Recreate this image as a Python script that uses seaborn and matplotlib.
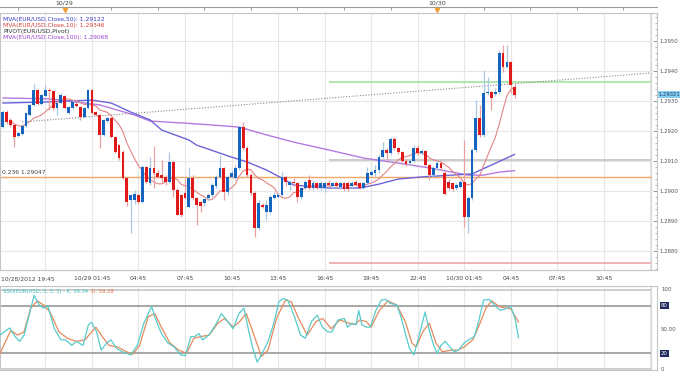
import numpy as np
import pandas as pd
import matplotlib
matplotlib.use('Agg')
import matplotlib.pyplot as plt
import matplotlib.transforms as mtransforms
from matplotlib.ticker import MultipleLocator, FixedLocator
import seaborn as sns

# EUR/USD 15-minute candles, 10/28/2012 20:00 -> 10/30/2012 05:00 (index 0..132)
opens = [1.29213, 1.29263, 1.29237, 1.29220, 1.29183, 1.29190, 1.29217, 1.29253, 1.29287, 1.29337,
         1.29290, 1.29317, 1.29337, 1.29333, 1.29277, 1.29293, 1.29317, 1.29260, 1.29277, 1.29290,
         1.29280, 1.29247, 1.29277, 1.29337, 1.29263, 1.29253, 1.29187, 1.29233, 1.29243, 1.29180,
         1.29153, 1.29130, 1.29043, 1.28970, 1.28970, 1.28987, 1.28963, 1.29080, 1.29027, 1.29077,
         1.29060, 1.29053, 1.29047, 1.29030, 1.29097, 1.29003, 1.28987, 1.28993, 1.28947, 1.29043,
         1.28977, 1.28963, 1.28960, 1.28977, 1.28987, 1.29017, 1.29047, 1.29077, 1.28997, 1.29047,
         1.29043, 1.29077, 1.29213, 1.29143, 1.29053, 1.28993, 1.28877, 1.28953, 1.28930, 1.28930,
         1.28977, 1.28980, 1.28987, 1.29047, 1.29020, 1.29030, 1.29027, 1.28980, 1.29010, 1.29037,
         1.29010, 1.29027, 1.29010, 1.29010, 1.29027, 1.29017, 1.29027, 1.29013, 1.29027, 1.29027,
         1.29017, 1.29030, 1.29027, 1.29010, 1.29027, 1.29053, 1.29060, 1.29070, 1.29113, 1.29137,
         1.29127, 1.29173, 1.29143, 1.29130, 1.29100, 1.29093, 1.29100, 1.29143, 1.29127, 1.29133,
         1.29087, 1.29053, 1.29077, 1.29093, 1.29060, 1.29030, 1.29027, 1.29010, 1.29013, 1.29030,
         1.28913, 1.28977, 1.29137, 1.29243, 1.29187, 1.29327, 1.29330, 1.29323, 1.29330, 1.29460,
         1.29413, 1.29430, 1.29347]
closes = [1.29263, 1.29230, 1.29220, 1.29180, 1.29193, 1.29217, 1.29260, 1.29287, 1.29337, 1.29290,
          1.29320, 1.29337, 1.29333, 1.29277, 1.29293, 1.29320, 1.29277, 1.29280, 1.29297, 1.29283,
          1.29247, 1.29277, 1.29337, 1.29260, 1.29253, 1.29187, 1.29237, 1.29243, 1.29180, 1.29130,
          1.29110, 1.29043, 1.28963, 1.28987, 1.28990, 1.28963, 1.29080, 1.29030, 1.29077, 1.29060,
          1.29047, 1.29043, 1.29030, 1.29097, 1.29003, 1.28920, 1.28920, 1.28977, 1.29043, 1.28977,
          1.28953, 1.28950, 1.28973, 1.28987, 1.29020, 1.29047, 1.29077, 1.28997, 1.29047, 1.29060,
          1.29077, 1.29213, 1.29143, 1.29053, 1.28993, 1.28877, 1.28960, 1.28947, 1.28953, 1.28980,
          1.28987, 1.28987, 1.29047, 1.29030, 1.29030, 1.29027, 1.28980, 1.29010, 1.29030, 1.29010,
          1.29027, 1.29010, 1.29027, 1.29027, 1.29020, 1.29027, 1.29017, 1.29027, 1.29007, 1.29007,
          1.29027, 1.29020, 1.29010, 1.29027, 1.29060, 1.29063, 1.29070, 1.29113, 1.29137, 1.29127,
          1.29173, 1.29143, 1.29130, 1.29100, 1.29090, 1.29100, 1.29143, 1.29127, 1.29133, 1.29087,
          1.29053, 1.29077, 1.29093, 1.29077, 1.28990, 1.29010, 1.29007, 1.29020, 1.29030, 1.28913,
          1.28977, 1.29137, 1.29243, 1.29187, 1.29327, 1.29330, 1.29310, 1.29330, 1.29460, 1.29413,
          1.29430, 1.29353, 1.29321]
highs = [1.29270, 1.29270, 1.29243, 1.29223, 1.29197, 1.29220, 1.29263, 1.29290, 1.29357, 1.29340,
         1.29323, 1.29353, 1.29343, 1.29337, 1.29297, 1.29327, 1.29320, 1.29283, 1.29303, 1.29297,
         1.29283, 1.29280, 1.29340, 1.29340, 1.29267, 1.29257, 1.29240, 1.29247, 1.29247, 1.29183,
         1.29157, 1.29137, 1.29047, 1.28990, 1.29003, 1.28990, 1.29087, 1.29083, 1.29113, 1.29150,
         1.29070, 1.29103, 1.29053, 1.29130, 1.29100, 1.29010, 1.28990, 1.29043, 1.29080, 1.29053,
         1.28980, 1.28967, 1.28977, 1.28993, 1.29027, 1.29053, 1.29120, 1.29080, 1.29053, 1.29070,
         1.29087, 1.29217, 1.29230, 1.29150, 1.29060, 1.29000, 1.28970, 1.28960, 1.28970, 1.28987,
         1.28997, 1.28993, 1.29063, 1.29050, 1.29037, 1.29043, 1.29030, 1.29013, 1.29037, 1.29053,
         1.29037, 1.29030, 1.29033, 1.29030, 1.29037, 1.29030, 1.29033, 1.29030, 1.29030, 1.29033,
         1.29033, 1.29037, 1.29030, 1.29030, 1.29080, 1.29070, 1.29087, 1.29120, 1.29163, 1.29143,
         1.29180, 1.29180, 1.29147, 1.29133, 1.29107, 1.29107, 1.29153, 1.29153, 1.29140, 1.29137,
         1.29090, 1.29083, 1.29100, 1.29097, 1.29070, 1.29040, 1.29030, 1.29027, 1.29037, 1.29170,
         1.28983, 1.29143, 1.29303, 1.29287, 1.29403, 1.29380, 1.29333, 1.29343, 1.29470, 1.29487,
         1.29487, 1.29433, 1.29357]
lows = [1.29210, 1.29223, 1.29213, 1.29147, 1.29180, 1.29187, 1.29213, 1.29250, 1.29283, 1.29287,
        1.29287, 1.29313, 1.29270, 1.29270, 1.29253, 1.29290, 1.29273, 1.29257, 1.29273, 1.29280,
        1.29237, 1.29243, 1.29273, 1.29257, 1.29250, 1.29143, 1.29183, 1.29230, 1.29177, 1.29127,
        1.29103, 1.29040, 1.28950, 1.28860, 1.28957, 1.28957, 1.28960, 1.29027, 1.29020, 1.29010,
        1.29043, 1.29027, 1.29020, 1.29027, 1.28980, 1.28920, 1.28913, 1.28973, 1.28943, 1.28970,
        1.28887, 1.28930, 1.28950, 1.28970, 1.28980, 1.29010, 1.29043, 1.28970, 1.28987, 1.29043,
        1.29037, 1.29070, 1.29137, 1.29047, 1.28987, 1.28847, 1.28870, 1.28943, 1.28903, 1.28923,
        1.28973, 1.28977, 1.28983, 1.29017, 1.29003, 1.29017, 1.28963, 1.28973, 1.29007, 1.29003,
        1.29003, 1.29007, 1.29003, 1.28997, 1.29013, 1.29010, 1.29010, 1.29007, 1.29000, 1.29000,
        1.29010, 1.29017, 1.29007, 1.29007, 1.29020, 1.29050, 1.29050, 1.29060, 1.29110, 1.29103,
        1.29120, 1.29137, 1.29123, 1.29093, 1.29083, 1.29087, 1.29097, 1.29120, 1.29120, 1.29083,
        1.29037, 1.29047, 1.29070, 1.29070, 1.28987, 1.29003, 1.29000, 1.29003, 1.29010, 1.28880,
        1.28860, 1.28970, 1.29130, 1.29180, 1.29180, 1.29320, 1.29270, 1.29317, 1.29323, 1.29397,
        1.29410, 1.29327, 1.29310]

# moving averages (candle index, price)
ma50_idx = [0, 12, 23, 28, 33, 38, 41, 48, 50, 59, 63, 68, 72, 75, 84, 92, 97, 102, 108, 121, 132]
ma50_val = [1.29293, 1.29297, 1.29303, 1.29293, 1.29263, 1.29237, 1.29203, 1.29170, 1.29153, 1.29113,
            1.29097, 1.29070, 1.29043, 1.29020, 1.29010, 1.29010, 1.29023, 1.29040, 1.29047, 1.29057, 1.29122]
ma100_idx = [0, 12, 25, 34, 38, 46, 54, 61, 68, 75, 84, 93, 102, 110, 120, 124, 128, 132]
ma100_val = [1.29310, 1.29307, 1.29287, 1.29253, 1.29233, 1.29227, 1.29220, 1.29213, 1.29187, 1.29163,
             1.29137, 1.29110, 1.29093, 1.29077, 1.29053, 1.29053, 1.29063, 1.29068]

# pivot / fibonacci levels
pivot_levels = [1.29363, 1.29103, 1.28760]
pivot_colors = ['#a3e39d', '#c4c4c4', '#eaa7a7']
pivot_start = 84
fib_level = 1.29047
trend_idx = [5, 167]
trend_val = [1.29230, 1.29393]

# slow stochastic (5,3,3)
k_pos = [-0.7, 0.4, 1.8, 3.2, 4.4, 5.5, 8.1, 9.4, 10.5, 11.7, 13.3, 15.0, 16.2, 17.8, 19.0, 20.7, 22.1,
         22.9, 24.2, 25.4, 26.8, 27.9, 29.4, 30.8, 33.0, 34.7, 36.4, 38.4, 39.2, 40.9, 42.6, 44.2, 45.9,
         47.1, 48.5, 49.5, 50.6, 51.5, 53.2, 54.9, 56.4, 57.7, 59.4, 60.9, 62.2, 63.3, 64.5, 65.6, 66.7,
         68.4, 69.9, 71.2, 72.3, 73.5, 75.1, 76.8, 78.0, 79.6, 81.1, 82.4, 83.8, 84.9, 86.4, 88.1, 88.9,
         90.1, 91.1, 91.8, 92.6, 93.7, 94.8, 96.2, 97.6, 98.7, 99.9, 101.6, 102.7, 103.8, 104.9, 106.0,
         107.2, 108.9, 110.0, 111.1, 112.0, 113.0, 114.1, 115.3, 116.4, 117.5, 119.0, 120.1, 121.6,
         122.7, 124.0, 125.4, 126.8, 128.3, 129.6, 131.0, 132.1, 133.0]
k_val = [43, 47, 52, 41, 35, 43, 93, 81, 77, 79, 51, 37, 37, 30, 35, 30, 56, 59, 47, 24, 33, 37, 26, 22,
         18, 30, 58, 79, 66, 45, 33, 28, 18, 17, 41, 41, 45, 37, 43, 56, 70, 62, 51, 70, 77, 51, 26, 9,
         18, 35, 58, 85, 89, 87, 68, 43, 39, 60, 68, 53, 47, 47, 62, 64, 53, 58, 56, 74, 56, 53, 53, 74,
         87, 88, 83, 81, 66, 45, 26, 18, 39, 72, 49, 30, 20, 30, 35, 28, 22, 24, 33, 37, 41, 60, 87, 88,
         81, 74, 76, 79, 64, 39.34]
d_pos = [-0.7, 2.1, 3.8, 5.5, 7.2, 8.9, 10.5, 12.2, 14.5, 16.7, 19.0, 21.2, 24.0, 25.7, 27.4, 29.6,
         31.9, 33.6, 35.3, 37.5, 39.2, 40.9, 43.1, 45.4, 47.4, 49.3, 51.0, 53.2, 55.5, 57.2, 59.4, 61.1,
         62.8, 64.5, 66.7, 68.4, 70.6, 72.9, 74.4, 76.3, 78.5, 80.8, 82.5, 84.7, 86.9, 89.2, 90.9, 92.0,
         93.7, 95.0, 97.1, 99.3, 101.6, 103.8, 105.5, 106.6, 108.3, 110.0, 111.7, 113.4, 115.6, 117.3,
         119.0, 121.2, 122.9, 124.6, 126.1, 128.0, 129.6, 131.0, 133.0]
d_val = [20, 49, 43, 47, 77, 86, 81, 72, 47, 39, 35, 37, 53, 41, 30, 28, 22, 19, 30, 66, 70, 53, 33,
         24, 20, 39, 41, 43, 58, 64, 53, 60, 70, 47, 16, 24, 64, 87, 85, 64, 43, 60, 64, 51, 62, 58, 56,
         62, 60, 53, 74, 86, 81, 60, 33, 28, 47, 58, 33, 22, 24, 24, 28, 37, 56, 77, 86, 79, 77, 76, 59.28]

# time axis (candle index of each label)
time_tick_idx = [23, 35, 47, 59, 71, 83, 95, 107, 119, 131, 143, 155]
time_tick_labels = ['10/29 01:45', '04:45', '07:45', '10:45', '13:45', '16:45', '19:45', '22:45',
                    '10/30 01:45', '04:45', '07:45', '10:45']
first_label = '10/28/2012 19:45'
day_idx = [16, 112]
day_labels = ['10/29', '10/30']
price_ticks = [1.2880, 1.2890, 1.2900, 1.2910, 1.2920, 1.2930, 1.2940, 1.2950]

df = pd.DataFrame({'open': opens, 'high': highs, 'low': lows, 'close': closes})
df['idx'] = np.arange(len(df))
df['ma10'] = df['close'].rolling(10, min_periods=3).mean()
up = df['close'] >= df['open']

sns.set_style('white')
plt.rcParams['font.family'] = ['DejaVu Sans']

fig = plt.figure(figsize=(6.8, 3.74), dpi=100)
ax = fig.add_axes([0, 104 / 374, 657 / 680, 257 / 374])
ax2 = fig.add_axes([0, 4 / 374, 657 / 680, 84 / 374])

x_right = 167.1
grid_idx = list(range(11, 168, 12))
for a in (ax, ax2):
    a.set_xlim(-0.7, 168.7)
    for g in grid_idx:
        a.axvline(g, color='#e6e6e6', lw=0.8, zorder=0)
    a.axvline(x_right, color='#d6d6d6', lw=0.8, zorder=0)
    for s in a.spines.values():
        s.set_color('#c4c4c4')
        s.set_linewidth(0.8)

# ---- price panel ----
ax.set_ylim(1.28737, 1.29593)
for p in price_ticks:
    ax.axhline(p, xmax=x_right / 168.7, color='#e6e6e6', lw=0.8, zorder=0)

ax.hlines(fib_level, -0.7, x_right, color='#f2a765', lw=1.0, zorder=1)
for lvl, col in zip(pivot_levels, pivot_colors):
    ax.hlines(lvl, pivot_start, x_right, color=col, lw=1.2, zorder=1)
ax.plot(trend_idx, trend_val, color='#8a8a8a', lw=0.8, ls=(0, (1, 1.5)), zorder=1)

sns.lineplot(x=ma100_idx, y=ma100_val, ax=ax, color='#b37be0', lw=1.0, estimator=None, zorder=2)
sns.lineplot(x=ma50_idx, y=ma50_val, ax=ax, color='#6c64d8', lw=1.0, estimator=None, zorder=2)
sns.lineplot(data=df, x='idx', y='ma10', ax=ax, color='#e38585', lw=0.8, estimator=None, zorder=2)

wick_col = np.where(up, '#a8c8e6', '#eaa0a0')
body_col = np.where(up, '#1565c0', '#e0191b')
ax.vlines(df['idx'], df['low'], df['high'], colors=wick_col, lw=0.9, zorder=3)
body_h = (df['close'] - df['open']).abs().clip(lower=0.00003)
ax.bar(df['idx'], body_h, bottom=df[['open', 'close']].min(axis=1), width=0.72,
       color=body_col, linewidth=0, zorder=4)

ax.set_xlabel('')
ax.set_ylabel('')
ax.yaxis.tick_right()
ax.set_yticks(price_ticks, labels=[f'{p:.4f}' for p in price_ticks])
ax.yaxis.set_minor_locator(MultipleLocator(0.0002))
ax.tick_params(axis='y', which='major', direction='in', length=3, width=0.6, color='#888888',
               labelsize=3.9, labelcolor='#555555', pad=1.5)
ax.tick_params(axis='y', which='minor', direction='in', length=1.5, width=0.5, color='#999999')
ax.set_xticks(time_tick_idx, labels=time_tick_labels)
ax.xaxis.set_minor_locator(FixedLocator(list(range(3, 168, 4))))
ax.tick_params(axis='x', which='major', direction='in', length=3, width=0.6, color='#888888',
               labelsize=4.3, labelcolor='#444444', pad=4)
ax.tick_params(axis='x', which='minor', direction='in', length=1.5, width=0.5, color='#999999')
ax.text(0.002, -0.025, first_label, transform=ax.transAxes, fontsize=4.3, color='#444444',
        ha='left', va='top')

# current price box
bt = mtransforms.blended_transform_factory(ax.transAxes, ax.transData)
ax.text(1.002, closes[-1], f'{closes[-1]:.5f}', transform=bt, fontsize=3.8, color='#1a3d6e',
        ha='left', va='center', bbox=dict(facecolor='#86cdf0', edgecolor='none', pad=0.5), zorder=6)

# fib label
ax.text(0.003, fib_level + 0.00005, f'0.236 {fib_level:.5f}', transform=bt, fontsize=4.3,
        color='#444444', ha='left', va='bottom')

# indicator legend
legend_lines = [('MVA(EUR/USD.Close,50): ' + f'{ma50_val[-1]:.5f}', '#3b3bc4'),
                ('MVA(EUR/USD.Close,10): ' + f"{df['ma10'].iloc[-1]:.5f}", '#d63a3a'),
                ('PIVOT(EUR/USD,Pivot)', '#333333'),
                ('MVA(EUR/USD.Close,100): ' + f'{ma100_val[-1]:.5f}', '#9b3fd0')]
for n, (txt, col) in enumerate(legend_lines):
    ax.text(0.005, 0.985 - n * 0.024, txt, transform=ax.transAxes, fontsize=4.3, color=col,
            ha='left', va='top')

# top date strip
top = ax.secondary_xaxis(1 + 6 / 257)
top.set_xticks(day_idx, labels=day_labels)
top.xaxis.set_minor_locator(FixedLocator(list(range(4, 168, 12))))
top.tick_params(which='major', direction='in', length=0, labelsize=4.5, labelcolor='#444444', pad=1)
top.tick_params(which='minor', direction='in', length=2.5, width=0.6, color='#888888')
top.spines['top'].set_color('#9a9a9a')
top.spines['top'].set_linewidth(0.8)
tt = mtransforms.blended_transform_factory(ax.transData, ax.transAxes)
ax.plot(day_idx, [1 + 3.5 / 257] * len(day_idx), transform=tt, ls='none', marker='v',
        color='#f0a030', markersize=3, clip_on=False)

# ---- stochastic panel ----
ax2.set_ylim(-1, 104.8)
for lvl, col in [(100, '#cccccc'), (80, '#a0a0a0'), (20, '#a0a0a0'), (0, '#cccccc')]:
    ax2.hlines(lvl, -0.7, x_right, color=col, lw=1.3, zorder=1)
sns.lineplot(x=d_pos, y=d_val, ax=ax2, color='#e48a5c', lw=0.9, estimator=None, sort=False, zorder=3)
sns.lineplot(x=k_pos, y=k_val, ax=ax2, color='#58cbcb', lw=0.9, estimator=None, sort=False, zorder=3)
ax2.set_xticks([])
ax2.set_yticks([])
ax2.set_xlabel('')
ax2.set_ylabel('')

b2 = mtransforms.blended_transform_factory(ax2.transAxes, ax2.transData)
osc_labels = [(100, '100', None), (80, '80', '#1f2a5c'), (50, '50.00', None), (20, '20', '#1f2a5c'),
              (0, '0', None)]
for v, txt, box in osc_labels:
    if box:
        ax2.text(1.006, v, txt, transform=b2, fontsize=3.9, color='white', ha='left', va='center',
                 bbox=dict(facecolor=box, edgecolor='none', pad=0.6))
    else:
        ax2.text(1.006, v, txt, transform=b2, fontsize=3.9, color='#555555', ha='left', va='center')

k_text = ax2.text(0.005, 0.97, f'SSO(EUR/USD, 5, 3, 3) - K: {k_val[-1]:.2f}',
                  transform=ax2.transAxes, fontsize=3.8, color='#3dbdbd', ha='left', va='top')
ax2.annotate(f'  D: {d_val[-1]:.2f}', xy=(1, 0), xycoords=k_text, fontsize=3.8,
             color='#e0703a', ha='left', va='bottom')

fig.savefig('out.png', dpi=100)
